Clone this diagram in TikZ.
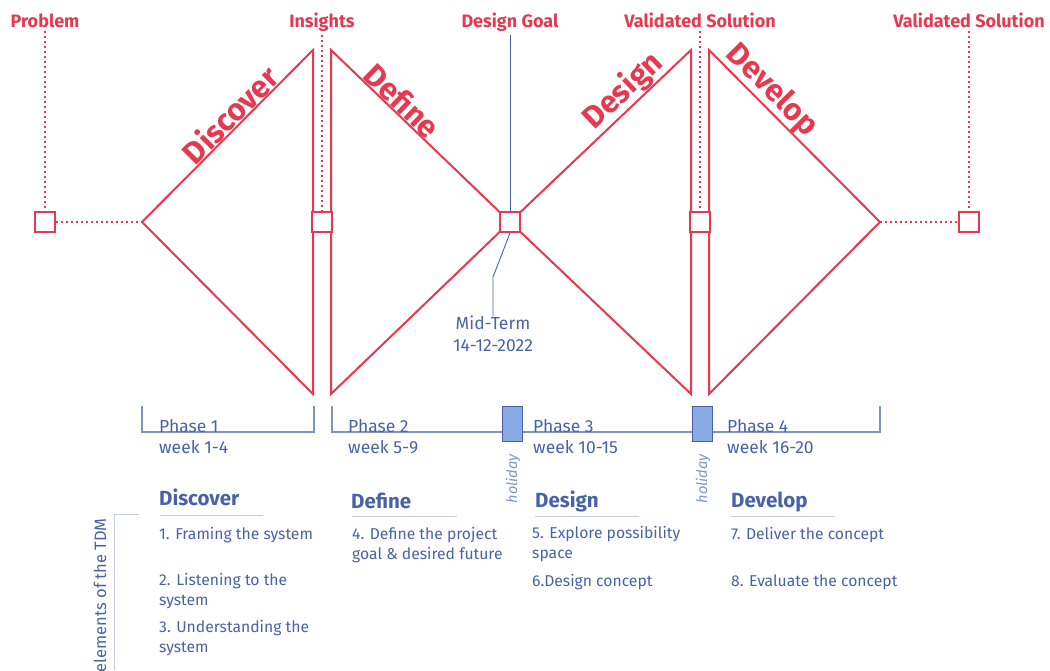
\documentclass[tikz,border=0pt]{standalone}
\usepackage{fontspec}
\setmainfont{Fira Sans}
\usetikzlibrary{positioning}
\definecolor{tdmrot}{RGB}{230,57,80}
\definecolor{tdmblau}{RGB}{72,98,168}
\definecolor{tdmlinie}{RGB}{128,148,192}
\definecolor{tdmfeld}{RGB}{136,170,228}
\definecolor{tdmgrau}{RGB}{196,206,224}
\tikzset{
  raute/.style={draw=tdmrot, line width=2pt, line join=miter}, % Rauten
  punktiert/.style={draw=tdmrot, line width=2pt, dash pattern=on 2pt off 3pt},
  kasten/.style={draw=tdmrot, line width=2pt, fill=white, minimum size=20pt, inner sep=0pt},
  titel/.style={text=tdmrot, font=\fontsize{18}{21}\selectfont\bfseries, anchor=base},
  phasename/.style={text=tdmrot, font=\fontsize{31}{36}\selectfont\bfseries, sloped, above, inner sep=0.5pt},
  klammer/.style={draw=tdmlinie, line width=1.2pt},
  ferien/.style={draw=tdmblau, line width=1pt, fill=tdmfeld, minimum width=20pt, minimum height=35pt, inner sep=0pt},
  ferientext/.style={text=tdmlinie, font=\fontsize{14.5}{17}\selectfont\itshape, rotate=90, anchor=east},
  woche/.style={text=tdmblau, font=\fontsize{17.5}{21}\selectfont, anchor=base west, align=left, inner sep=0pt},
  kopf/.style={text=tdmblau, font=\fontsize{20.5}{24}\selectfont\bfseries, anchor=base west, inner sep=0pt},
  eintrag/.style={text=tdmblau, font=\fontsize{15.7}{19.5}\selectfont, anchor=base west, align=left, inner sep=0pt},
  unterstrich/.style={draw=tdmgrau, line width=1pt},
  ziel/.style={draw=tdmblau, line width=0.9pt}
}
\begin{document}
\begin{tikzpicture}[x=1pt, y=-1pt]
\useasboundingbox (0,0) rectangle (1050,670);

%Eckpunkte der Rauten
\coordinate (d1l) at (142,222);
\coordinate (d1o) at (313,50);
\coordinate (d1u) at (313,394);
\coordinate (d2o) at (331,50);
\coordinate (d2u) at (331,394);
\coordinate (mitte) at (510,222);
\coordinate (d3o) at (691,50);
\coordinate (d3u) at (691,394);
\coordinate (d4o) at (709,50);
\coordinate (d4u) at (709,394);
\coordinate (d4r) at (880,222);

%Rauten
\draw[raute] (d1l) -- (d1o) -- (d1u) -- cycle;
\draw[raute] (d2o) -- (mitte) -- (d2u) -- cycle;
\draw[raute] (mitte) -- (d3o) -- (d3u) -- cycle;
\draw[raute] (d4o) -- (d4r) -- (d4u) -- cycle;

%Phasennamen
\path (d1l) -- node[phasename, pos=0.57] {Discover} (d1o);
\path (d2o) -- node[phasename, pos=0.35] {Define} (mitte);
\path (mitte) -- node[phasename, pos=0.69] {Design} (d3o);
\path (d4o) -- node[phasename, pos=0.30] {Develop} (d4r);

%Titel
\node[titel] (tP) at (45,27) {Problem};
\node[titel] (tI) at (322,27) {Insights};
\node[titel] (tG) at (510,27) {Design Goal};
\node[titel] (tV) at (700,27) {Validated Solution};
\node[titel] (tE) at (969,27) {Validated Solution};

%Kaesten
\node[kasten] (P) at (45,222) {};
\node[kasten] (I) at (322,222) {};
\node[kasten] (G) at (mitte) {};
\node[kasten] (V) at (700,222) {};
\node[kasten] (E) at (969,222) {};

%punktierte Linien
\draw[punktiert] (tP) -- (P);
\draw[punktiert] (P) -- (d1l);
\draw[punktiert] (tI) -- (I);
\draw[punktiert] (tV) -- (V);
\draw[punktiert] (tE) -- (E);
\draw[punktiert] (d4r) -- (E);

%Design Goal / Mid-Term
\node[text=tdmblau, font=\fontsize{17.5}{22}\selectfont, align=center, anchor=north, inner sep=0pt] (mt) at (493,316) {Mid-Term\\14-12-2022};
\coordinate (knick) at (493,277);
\draw[ziel] (tG) -- (G);
\draw[ziel] (G.south) -- (knick) -- (mt.north);

%Zeitleiste
\draw[klammer] (142,406) -- (142,432) -- (314,432) -- (314,406);
\draw[klammer] (332,406) -- (332,432) -- (880,432) -- (880,406);
\node[ferien] (h1) at (512,423.5) {};
\node[ferien] (h2) at (702,423.5) {};
\node[ferientext] at (513,451) {holiday};
\node[ferientext] at (703,451) {holiday};

\node[woche] (w1) at (159,453) {Phase 1\\week 1-4};
\node[woche] (w2) at (348,453) {Phase 2\\week 5-9};
\node[woche] (w3) at (533,453) {Phase 3\\week 10-15};
\node[woche] (w4) at (727,453) {Phase 4\\week 16-20};

%Elemente
\node[kopf] (k1) at (159,505) {Discover};
\node[kopf] (k2) at (351,508) {Define};
\node[kopf] (k3) at (535,507) {Design};
\node[kopf] (k4) at (731,507) {Develop};
\draw[unterstrich] (160,515) -- (263,515);
\draw[unterstrich] (352,516) -- (457,516);
\draw[unterstrich] (535,516) -- (639,516);
\draw[unterstrich] (731,516) -- (835,516);

\node[eintrag] (e1) at (159,539) {1. Framing the system};
\node[eintrag] (e2) at (159,605) {2. Listening to the\\system};
\node[eintrag] (e3) at (159,652) {3. Understanding the\\system};
\node[eintrag] (e4) at (352,559) {4. Define the project\\goal \& desired future};
\node[eintrag] (e5) at (532,558) {5. Explore possibility\\space};
\node[eintrag] (e6) at (532,586) {6.Design concept};
\node[eintrag] (e7) at (731,539) {7. Deliver the concept};
\node[eintrag] (e8) at (731,586) {8. Evaluate the concept};

\draw[unterstrich] (139,514) -- (114,514) -- (114,670);
\node[text=tdmblau, font=\fontsize{16.5}{20}\selectfont, rotate=90, anchor=east, inner sep=0pt] (tdm) at (100,518) {elements of the TDM};

\end{tikzpicture}
\end{document}
